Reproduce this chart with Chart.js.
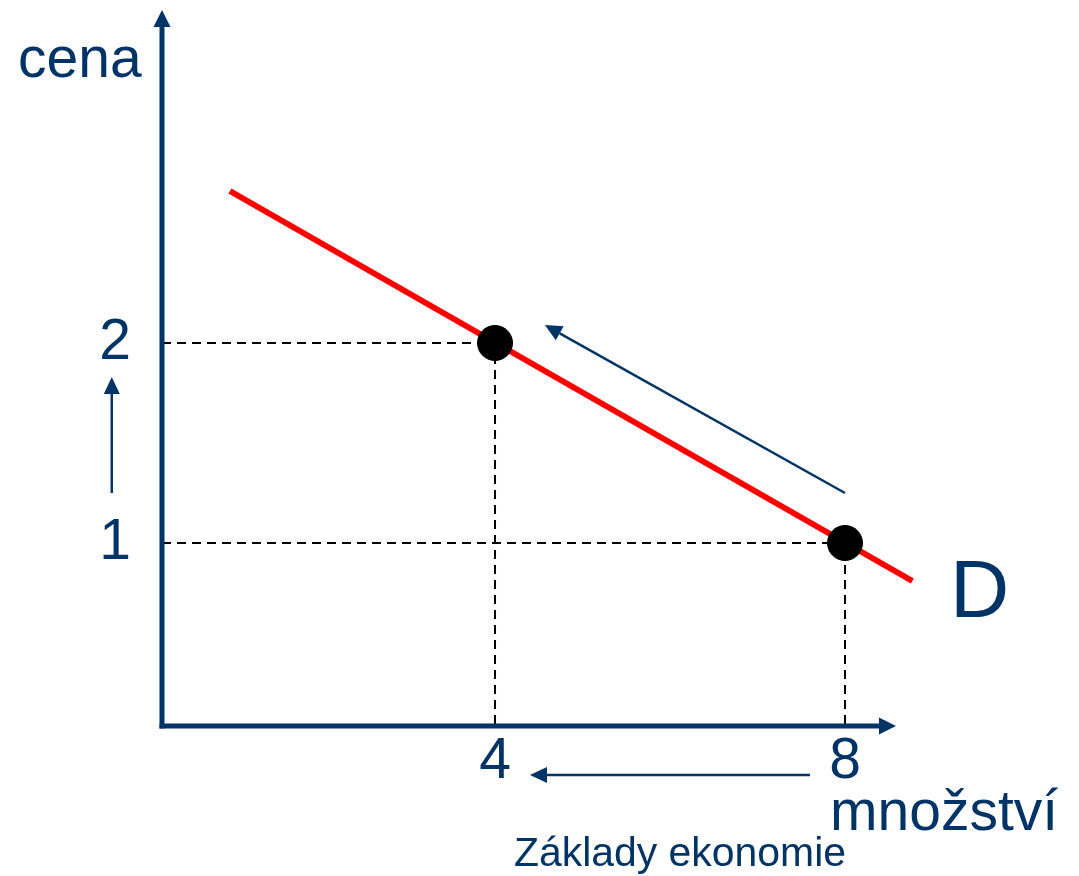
<!DOCTYPE html>
<html>
<head>
<meta charset="utf-8">
<script src="https://cdn.jsdelivr.net/npm/chart.js@4.4.1/dist/chart.umd.min.js"></script>
<style>
    html, body { margin: 0; padding: 0; background: #ffffff; }
    #wrap { width: 1079px; height: 876px; }
</style>
</head>
<body>
<div id="wrap"><canvas id="demand" width="1079" height="876"></canvas></div>
<script>
// Data
const xTicks = [4, 8];
const yTicks = [1, 2];
const pointX = [4, 8];
const pointY = [2, 1];
const demandX = [0.97, 8.77];
const demandY = [2.76, 0.81];

// Movement arrows (data units): [tailX, tailY, tipX, tipY]
const moveArrows = [
    [8.0, 1.25, 4.57, 2.09],
    [-0.38, 1.25, -0.38, 1.83],
    [7.6, -0.16, 4.4, -0.16]
];

// Axis ranges
const X_MIN = 0.194, X_MAX = 8.4;
const Y_MIN = 0.085, Y_MAX = 3.615;

const NAVY = '#003466';
const FONT = '"Liberation Sans", Arial, sans-serif';

const toXY = (xs, ys) => xs.map((x, i) => ({ x: x, y: ys[i] }));

// Dashed guides from axes to each point
const guideSets = pointX.map((x, i) => ({
    type: 'line',
    data: [{ x: X_MIN, y: pointY[i] }, { x: x, y: pointY[i] }, { x: x, y: Y_MIN }],
    borderColor: '#000000',
    borderWidth: 2,
    borderDash: [9, 6],
    pointRadius: 0,
    fill: false,
    order: 3
}));

const drawArrow = (ctx, x1, y1, x2, y2, width, headLen, headHalf) => {
    const ang = Math.atan2(y2 - y1, x2 - x1);
    const bx = x2 - headLen * Math.cos(ang);
    const by = y2 - headLen * Math.sin(ang);
    ctx.beginPath();
    ctx.lineWidth = width;
    ctx.moveTo(x1, y1);
    ctx.lineTo(bx, by);
    ctx.stroke();
    ctx.beginPath();
    ctx.moveTo(x2, y2);
    ctx.lineTo(bx + headHalf * Math.sin(ang), by - headHalf * Math.cos(ang));
    ctx.lineTo(bx - headHalf * Math.sin(ang), by + headHalf * Math.cos(ang));
    ctx.closePath();
    ctx.fill();
};

const decorPlugin = {
    id: 'decor',
    afterDatasetsDraw: (chart) => {
        const ctx = chart.ctx;
        const a = chart.chartArea;
        const xs = chart.scales.x;
        const ys = chart.scales.y;
        ctx.save();
        ctx.strokeStyle = NAVY;
        ctx.fillStyle = NAVY;
        ctx.lineCap = 'butt';

        // axes with arrowheads
        ctx.beginPath();
        ctx.lineWidth = 5;
        ctx.moveTo(a.left, a.bottom + 2.5);
        ctx.lineTo(a.left, a.top + 5);
        ctx.stroke();
        drawArrow(ctx, a.left, a.top + 5, a.left, a.top - 10, 5, 17, 8.5);
        ctx.beginPath();
        ctx.moveTo(a.left - 2.5, a.bottom);
        ctx.lineTo(a.right, a.bottom);
        ctx.stroke();
        drawArrow(ctx, a.right, a.bottom, a.right + 16, a.bottom, 5, 17, 8.5);

        // movement arrows
        moveArrows.forEach(m => {
            drawArrow(ctx,
                xs.getPixelForValue(m[0]), ys.getPixelForValue(m[1]),
                xs.getPixelForValue(m[2]), ys.getPixelForValue(m[3]),
                2.5, 17, 8);
        });

        // labels
        ctx.textBaseline = 'alphabetic';
        ctx.textAlign = 'left';
        ctx.font = '57px ' + FONT;
        ctx.fillText('cena', 18, 77);
        ctx.fillText('množství', 830, 830);
        ctx.font = '82px ' + FONT;
        ctx.fillText('D', 950, 617);
        ctx.font = '41px ' + FONT;
        ctx.fillText('Základy ekonomie', 514, 866, 332);
        ctx.restore();
    }
};

new Chart(document.getElementById('demand'), {
    type: 'scatter',
    data: {
        datasets: [
            {
                type: 'scatter',
                data: toXY(pointX, pointY),
                backgroundColor: '#000000',
                borderColor: '#000000',
                pointRadius: 17.5,
                clip: false,
                order: 1
            },
            {
                type: 'line',
                data: toXY(demandX, demandY),
                borderColor: '#ff0000',
                borderWidth: 6,
                pointRadius: 0,
                fill: false,
                clip: false,
                order: 2
            },
            ...guideSets
        ]
    },
    options: {
        responsive: false,
        animation: false,
        events: [],
        layout: { padding: { left: 0, top: 20, right: 199, bottom: 0 } },
        plugins: {
            legend: { display: false },
            tooltip: { enabled: false }
        },
        scales: {
            x: {
                type: 'linear',
                min: X_MIN,
                max: X_MAX,
                afterFit: (scale) => {
                    scale.height = 150;
                    scale.paddingLeft = 0;
                    scale.paddingRight = 0;
                },
                afterBuildTicks: (scale) => { scale.ticks = xTicks.map(v => ({ value: v })); },
                grid: { display: false, drawTicks: false },
                border: { display: false },
                ticks: {
                    color: NAVY,
                    padding: 2,
                    maxRotation: 0,
                    autoSkip: false,
                    font: { family: FONT, size: 57 }
                }
            },
            y: {
                type: 'linear',
                min: Y_MIN,
                max: Y_MAX,
                afterFit: (scale) => {
                    scale.width = 162;
                    scale.paddingTop = 0;
                    scale.paddingBottom = 0;
                },
                afterBuildTicks: (scale) => { scale.ticks = yTicks.map(v => ({ value: v })); },
                grid: { display: false, drawTicks: false },
                border: { display: false },
                ticks: {
                    color: NAVY,
                    padding: 31,
                    autoSkip: false,
                    font: { family: FONT, size: 57 }
                }
            }
        }
    },
    plugins: [decorPlugin]
});
</script>
</body>
</html>
